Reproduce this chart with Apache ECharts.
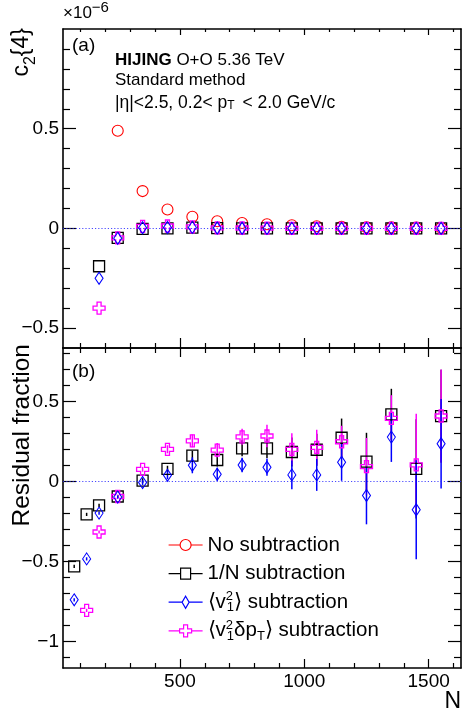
<!DOCTYPE html>
<html>
<head>
<meta charset="utf-8">
<script src="https://cdn.jsdelivr.net/npm/echarts@6/dist/echarts.min.js"></script>
<style>
html,body{margin:0;padding:0;background:#fff;}
#chart{width:462px;height:717px;}
</style>
</head>
<body>
<div id="chart"></div>
<script>
// ---------------- data ----------------
// panel (a): c2{4} (units of 1e-6) vs N
const N_TOP = [175, 250, 350, 450, 550, 650, 750, 850, 950, 1050, 1150, 1250, 1350, 1450, 1550];
const C24_NOSUB = [null, 0.49, 0.187, 0.095, 0.058, 0.036, 0.027, 0.021, 0.016, 0.011, 0.008, 0.006, 0.005, 0.004, 0.003];
const C24_ONEN  = [-0.19, -0.048, -0.003, 0.0, 0.004, 0.001, 0.0, 0.0, 0.0, 0.0, 0.0, 0.0, 0.0, 0.0, 0.0];
const C24_V1    = [-0.25, -0.05, 0.003, 0.004, 0.005, 0.002, 0.001, 0.0, 0.0, 0.0, 0.0, 0.0, 0.0, 0.0, 0.0];
const C24_V1DPT = [-0.40, -0.048, 0.01, 0.012, 0.008, 0.003, 0.002, 0.001, 0.0, 0.0, 0.0, 0.0, 0.0, 0.0, 0.0];

// panel (b): residual fraction vs N
const N_BOT = [75, 125, 175, 250, 350, 450, 550, 650, 750, 850, 950, 1050, 1150, 1250, 1350, 1450, 1550];
const RF_ONEN      = [-0.53, -0.205, -0.149, -0.093, 0.006, 0.079, 0.162, 0.135, 0.208, 0.208, 0.185, 0.199, 0.274, 0.125, 0.42, 0.08, 0.409];
const RF_ONEN_ERR  = [0.01, 0.01, 0.01, 0.01, 0.015, 0.02, 0.03, 0.04, 0.05, 0.06, 0.09, 0.10, 0.12, 0.18, 0.16, 0.31, 0.29];
const RF_V1        = [-0.739, -0.483, -0.197, -0.097, -0.006, 0.04, 0.102, 0.046, 0.104, 0.09, 0.042, 0.042, 0.121, -0.087, 0.278, -0.176, 0.237];
const RF_V1_ERR    = [0.01, 0.01, 0.01, 0.01, 0.015, 0.025, 0.05, 0.04, 0.045, 0.054, 0.09, 0.10, 0.116, 0.18, 0.155, 0.31, 0.28];
const RF_V1DPT     = [null, -0.805, -0.315, -0.093, 0.077, 0.202, 0.255, 0.197, 0.28, 0.285, 0.202, 0.214, 0.249, 0.093, 0.395, 0.104, 0.41];
const RF_V1DPT_ERR = [null, 0.01, 0.01, 0.01, 0.015, 0.025, 0.04, 0.045, 0.05, 0.07, 0.10, 0.11, 0.10, 0.18, 0.145, 0.32, 0.29];

// axes / ticks
const X_RANGE = [30, 1630];
const X_MAJOR = [500, 1000, 1500];
const X_MINOR = [100, 200, 300, 400, 600, 700, 800, 900, 1100, 1200, 1300, 1400, 1600];
const Y_TOP_RANGE = [-0.6, 1.0];
const Y_TOP_MAJOR = [-0.5, 0, 0.5];
const Y_TOP_MINOR = [-0.4, -0.3, -0.2, -0.1, 0.1, 0.2, 0.3, 0.4, 0.6, 0.7, 0.8, 0.9];
const Y_BOT_RANGE = [-1.165, 0.835];
const Y_BOT_MAJOR = [-1, -0.5, 0, 0.5];
const Y_BOT_MINOR = [-1.1, -0.9, -0.8, -0.7, -0.6, -0.4, -0.3, -0.2, -0.1, 0.1, 0.2, 0.3, 0.4, 0.6, 0.7, 0.8];

const LEGEND_NAMES = ['No subtraction', '1/N subtraction', 'v1 subtraction', 'v1dpT subtraction'];

// ---------------- chart ----------------
const FONT = 'Liberation Sans, Arial, Helvetica, sans-serif';
const RED = '#ff0000', BLACK = '#000000', BLUE = '#0000ff', MAGENTA = '#ff00ff';
const LEG_COLORS = [RED, BLACK, BLUE, MAGENTA];
const CROSS = 'path://M4,0 H8 V4 H12 V8 H8 V12 H4 V8 H0 V4 H4 Z';

function fmt(v) { return v < 0 ? '\u2212' + String(Math.abs(v)) : String(v); }

function xAx(grid, pos, ticks, len, labels, showLine) {
  return {
    type: 'value', gridIndex: grid, position: pos, min: X_RANGE[0], max: X_RANGE[1],
    axisLine: { show: showLine, onZero: false, lineStyle: { color: '#000', width: 1.6 } },
    axisTick: { show: true, inside: true, length: len, customValues: ticks, lineStyle: { color: '#000', width: 1.2 } },
    axisLabel: labels ? { show: true, customValues: labels, fontSize: 19, fontFamily: FONT, color: '#000', margin: 4, formatter: fmt } : { show: false },
    splitLine: { show: false }
  };
}
function yAx(grid, pos, range, ticks, len, labels, showLine) {
  return {
    type: 'value', gridIndex: grid, position: pos, min: range[0], max: range[1],
    axisLine: { show: showLine, onZero: false, lineStyle: { color: '#000', width: 1.6 } },
    axisTick: { show: true, inside: true, length: len, customValues: ticks, lineStyle: { color: '#000', width: 1.2 } },
    axisLabel: labels ? { show: true, customValues: labels, fontSize: 19, fontFamily: FONT, color: '#000', margin: 4, formatter: fmt } : { show: false },
    splitLine: { show: false }
  };
}
function pairs(xs, ys) {
  const out = [];
  xs.forEach((x, i) => { if (ys[i] != null) out.push([x, ys[i]]); });
  return out;
}
function triples(xs, ys, es) {
  const out = [];
  xs.forEach((x, i) => { if (ys[i] != null) out.push([x, ys[i], es[i]]); });
  return out;
}
function scatter(name, xi, yi, data, symbol, size, color, bw) {
  return {
    type: 'scatter', name: name, xAxisIndex: xi, yAxisIndex: yi, data: data,
    symbol: symbol, symbolSize: size,
    itemStyle: { color: 'rgba(0,0,0,0)', borderColor: color, borderWidth: bw, opacity: 1 },
    emphasis: { disabled: true }, silent: true
  };
}
function errBars(xi, yi, data, color) {
  return {
    type: 'custom', xAxisIndex: xi, yAxisIndex: yi, data: data, silent: true,
    encode: { x: 0, y: 1 },
    renderItem: function (params, api) {
      const x = api.value(0), y = api.value(1), e = api.value(2);
      const p1 = api.coord([x, y + e]);
      const p2 = api.coord([x, y - e]);
      return { type: 'line', shape: { x1: p1[0], y1: p1[1], x2: p2[0], y2: p2[1] },
               style: { stroke: color, lineWidth: 1.5 } };
    }
  };
}
const zeroLine = {
  silent: true, symbol: ['none', 'none'], label: { show: false },
  lineStyle: { type: [1.2, 2], color: '#2a2aff', width: 1, opacity: 0.85 },
  data: [{ yAxis: 0 }]
};

const G_LEFT = 63, G_W = 398;
const grids = [
  { left: G_LEFT, top: 29, width: G_W, height: 319 },
  { left: G_LEFT, top: 29, width: G_W, height: 319 },
  { left: G_LEFT, top: 348, width: G_W, height: 320 },
  { left: G_LEFT, top: 348, width: G_W, height: 320 }
];

const xAxes = [
  xAx(0, 'bottom', X_MAJOR, 10, null, true),
  xAx(0, 'top', X_MAJOR, 6, null, true),
  xAx(1, 'bottom', X_MINOR, 5, null, false),
  xAx(1, 'top', X_MINOR, 3, null, false),
  xAx(2, 'bottom', X_MAJOR, 9, X_MAJOR, true),
  xAx(2, 'top', X_MAJOR, 9, null, true),
  xAx(3, 'bottom', X_MINOR, 5, null, false),
  xAx(3, 'top', X_MINOR, 5, null, false)
];
const yAxes = [
  yAx(0, 'left', Y_TOP_RANGE, Y_TOP_MAJOR, 13, Y_TOP_MAJOR, true),
  yAx(0, 'right', Y_TOP_RANGE, Y_TOP_MAJOR, 13, null, true),
  yAx(1, 'left', Y_TOP_RANGE, Y_TOP_MINOR, 7, null, false),
  yAx(1, 'right', Y_TOP_RANGE, Y_TOP_MINOR, 7, null, false),
  yAx(2, 'left', Y_BOT_RANGE, Y_BOT_MAJOR, 13, Y_BOT_MAJOR, true),
  yAx(2, 'right', Y_BOT_RANGE, Y_BOT_MAJOR, 13, null, true),
  yAx(3, 'left', Y_BOT_RANGE, Y_BOT_MINOR, 7, null, false),
  yAx(3, 'right', Y_BOT_RANGE, Y_BOT_MINOR, 7, null, false)
];

const sNoSubTop = scatter(LEGEND_NAMES[0], 0, 0, pairs(N_TOP, C24_NOSUB), 'circle', 11, RED, 1.1);
sNoSubTop.markLine = zeroLine;
const sOneNBot = scatter(LEGEND_NAMES[1], 4, 4, pairs(N_BOT, RF_ONEN), 'rect', 11, BLACK, 1.3);
sOneNBot.markLine = zeroLine;

const series = [
  sNoSubTop,
  scatter(LEGEND_NAMES[1], 0, 0, pairs(N_TOP, C24_ONEN), 'rect', 11, BLACK, 1.3),
  scatter(LEGEND_NAMES[3], 0, 0, pairs(N_TOP, C24_V1DPT), CROSS, 12, MAGENTA, 1.3),
  scatter(LEGEND_NAMES[2], 0, 0, pairs(N_TOP, C24_V1), 'diamond', [8, 12], BLUE, 1.1),
  errBars(4, 4, triples(N_BOT, RF_ONEN, RF_ONEN_ERR), BLACK),
  errBars(4, 4, triples(N_BOT, RF_V1DPT, RF_V1DPT_ERR), MAGENTA),
  errBars(4, 4, triples(N_BOT, RF_V1, RF_V1_ERR), BLUE),
  sOneNBot,
  scatter(LEGEND_NAMES[3], 4, 4, pairs(N_BOT, RF_V1DPT), CROSS, 12, MAGENTA, 1.3),
  scatter(LEGEND_NAMES[2], 4, 4, pairs(N_BOT, RF_V1), 'diamond', [8, 12], BLUE, 1.1)
];

const LEG_TEXT = {};
LEG_TEXT[LEGEND_NAMES[0]] = 'No subtraction';
LEG_TEXT[LEGEND_NAMES[1]] = '1/N subtraction';
LEG_TEXT[LEGEND_NAMES[2]] = '\u27e8v{sup|2}{sub|1}\u27e9 subtraction';
LEG_TEXT[LEGEND_NAMES[3]] = '\u27e8v{sup|2}{sub|1}\u03b4p{sub2|T}\u27e9 subtraction';

const ICONS = [
  'path://M0,6 H11.5 M22.5,6 H34 M22.5,6 A5.5,5.5 0 1 1 11.5,6 A5.5,5.5 0 1 1 22.5,6',
  'path://M0,6 H12 M22,6 H34 M12,0.5 H22 V11.5 H12 Z',
  'path://M0,6 H14 M20,6 H34 M17,0 L20.5,6 L17,12 L13.5,6 Z',
  'path://M0,6 H11 M23,6 H34 M15,0 H19 V4 H23 V8 H19 V12 H15 V8 H11 V4 H15 Z'
];

const option = {
  animation: false,
  backgroundColor: '#ffffff',
  grid: grids,
  xAxis: xAxes,
  yAxis: yAxes,
  series: series,
  legend: {
    orient: 'vertical', left: 168, top: 533, padding: 0,
    itemWidth: 34, itemHeight: 12, itemGap: 4.6, selectedMode: false,
    data: LEGEND_NAMES.map((n, i) => ({
      name: n, icon: ICONS[i],
      itemStyle: { color: 'rgba(0,0,0,0)', borderColor: LEG_COLORS[i], borderWidth: 1.2, opacity: 1 }
    })),
    formatter: function (name) { return LEG_TEXT[name]; },
    textStyle: {
      fontSize: 20.5, fontFamily: FONT, color: '#000', lineHeight: 24,
      rich: {
        sup: { fontSize: 13, fontFamily: FONT, verticalAlign: 'top', lineHeight: 24, width: 1 },
        sub: { fontSize: 13, fontFamily: FONT, verticalAlign: 'bottom', lineHeight: 18 },
        sub2: { fontSize: 13, fontFamily: FONT, verticalAlign: 'bottom', lineHeight: 18 }
      }
    }
  },
  graphic: [
    { type: 'text', x: 63, y: 26, style: { text: '\u00d710{s|\u22126}', fontSize: 17, fontFamily: FONT, fill: '#000', verticalAlign: 'bottom',
        rich: { s: { fontSize: 15, fontFamily: FONT, verticalAlign: 'top', lineHeight: 26 } } } },
    { type: 'text', x: 22, y: 28, rotation: Math.PI / 2,
      style: { text: 'c{s|2}{4}', fontSize: 23, fontFamily: FONT, fill: '#000', align: 'right', verticalAlign: 'middle',
        rich: { s: { fontSize: 16, fontFamily: FONT, verticalAlign: 'bottom', lineHeight: 34 } } } },
    { type: 'text', x: 22, y: 344, rotation: Math.PI / 2,
      style: { text: 'Residual fraction', fontSize: 24.5, fontFamily: FONT, fill: '#000', align: 'right', verticalAlign: 'middle' } },
    { type: 'text', x: 461, y: 702, style: { text: 'N', fontSize: 23, fontFamily: FONT, fill: '#000', align: 'right', verticalAlign: 'middle' } },
    { type: 'text', x: 72, y: 46, style: { text: '(a)', fontSize: 19, fontFamily: FONT, fill: '#000', verticalAlign: 'middle' } },
    { type: 'text', x: 72, y: 372, style: { text: '(b)', fontSize: 19, fontFamily: FONT, fill: '#000', verticalAlign: 'middle' } },
    { type: 'text', x: 115, y: 60, style: { text: '{b|HIJING} O+O 5.36 TeV', fontSize: 17, fontFamily: FONT, fill: '#000', verticalAlign: 'middle',
        rich: { b: { fontSize: 17, fontFamily: FONT, fontWeight: 'bold' } } } },
    { type: 'text', x: 115, y: 80, style: { text: 'Standard method', fontSize: 17, fontFamily: FONT, fill: '#000', verticalAlign: 'middle' } },
    { type: 'text', x: 115, y: 103, style: { text: '|\u03b7|<2.5, 0.2< p{s|T} < 2.0 GeV/c', fontSize: 17.5, fontFamily: FONT, fill: '#000', verticalAlign: 'middle',
        rich: { s: { fontSize: 12, fontFamily: FONT, verticalAlign: 'bottom', lineHeight: 12, padding: [0, 3, 0, 0] } } } }
  ]
};

const chart = echarts.init(document.getElementById('chart'), null, { renderer: 'canvas' });
chart.setOption(option);
</script>
</body>
</html>
